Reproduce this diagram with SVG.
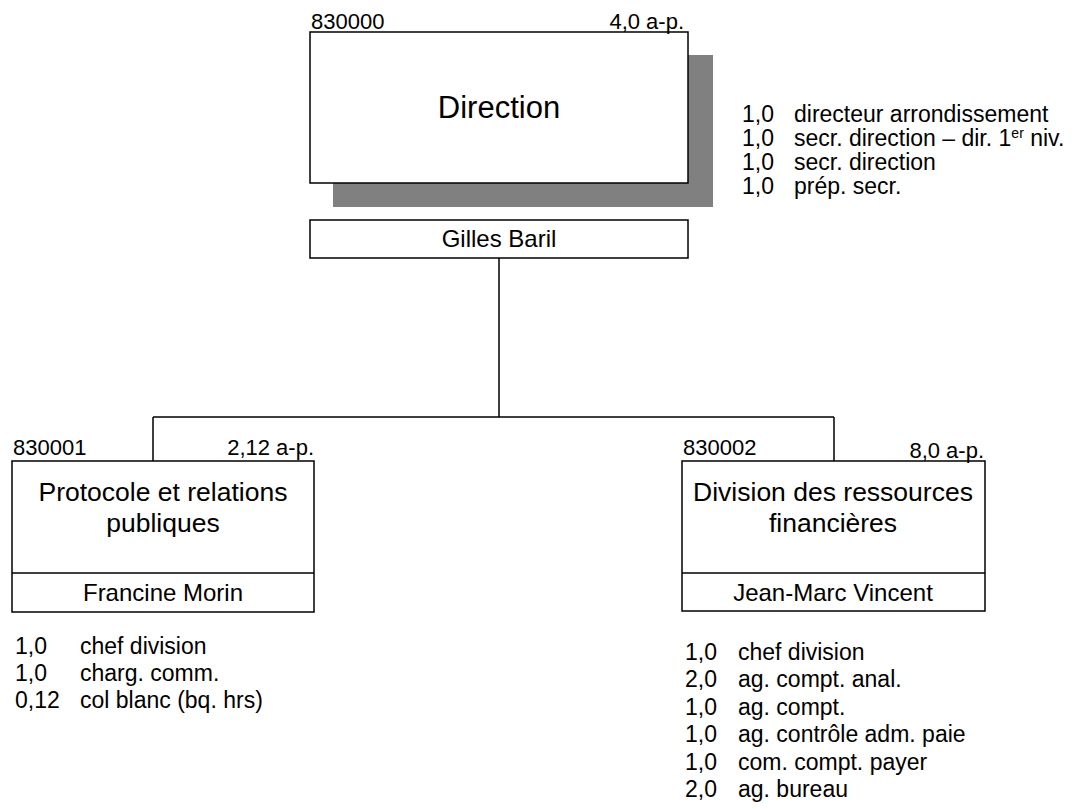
<svg xmlns="http://www.w3.org/2000/svg" width="1085" height="809" viewBox="0 0 1085 809">
<style>
text{font-family:"Liberation Sans",Arial,sans-serif;fill:#000}
.box{fill:#fff;stroke:#000;stroke-width:1.5}
.shadow{fill:#808080;stroke:none}
.line{stroke:#000;stroke-width:1.5;fill:none}
.lbl{font-size:22px}
.name{font-size:24px}
.title{font-size:26.5px}
.list{font-size:23px}
.mid{text-anchor:middle}
.end{text-anchor:end}
</style>
<rect width="1085" height="809" fill="#fff"/>
<g id="connectors">
<path class="line" d="M499,258 V417 M153,417 H834 M153,417 V461 M834,417 V461"/>
</g>
<g id="direction">
<rect class="shadow" x="333" y="55" width="380" height="152"/>
<rect class="box" x="310" y="32" width="378" height="151"/>
<text class="lbl" x="311" y="29">830000</text>
<text class="lbl end" x="684" y="29">4,0 a-p.</text>
<text class="mid" x="499" y="118" font-size="31">Direction</text>
<rect class="box" x="310" y="220" width="378" height="38"/>
<text class="name mid" x="499" y="247">Gilles Baril</text>
<g class="list">
<text x="742" y="122">1,0</text><text x="794" y="122">directeur arrondissement</text>
<text x="742" y="146">1,0</text><text x="794" y="146">secr. direction – dir. 1<tspan dy="-8" font-size="14">er</tspan><tspan dy="8"> niv.</tspan></text>
<text x="742" y="170">1,0</text><text x="794" y="170">secr. direction</text>
<text x="742" y="194">1,0</text><text x="794" y="194">prép. secr.</text>
</g>
</g>
<g id="protocole">
<rect class="box" x="12" y="461" width="302" height="151"/>
<line class="line" x1="12" y1="573" x2="314" y2="573"/>
<text class="lbl" x="13" y="455">830001</text>
<text class="lbl end" x="314" y="455">2,12 a-p.</text>
<text class="title mid" x="163" y="501">Protocole et relations</text>
<text class="title mid" x="163" y="532">publiques</text>
<text class="name mid" x="163" y="601">Francine Morin</text>
<g class="list">
<text x="15" y="654">1,0</text><text x="80" y="654">chef division</text>
<text x="15" y="681">1,0</text><text x="80" y="681">charg. comm.</text>
<text x="15" y="708">0,12</text><text x="80" y="708">col blanc (bq. hrs)</text>
</g>
</g>
<g id="finances">
<rect class="box" x="682" y="461" width="303" height="150"/>
<line class="line" x1="682" y1="573" x2="985" y2="573"/>
<text class="lbl" x="683" y="455">830002</text>
<text class="lbl end" x="984" y="458">8,0 a-p.</text>
<text class="title mid" x="833" y="501">Division des ressources</text>
<text class="title mid" x="833" y="532">financières</text>
<text class="name mid" x="833" y="601">Jean-Marc Vincent</text>
<g class="list">
<text x="685" y="660">1,0</text><text x="738" y="660">chef division</text>
<text x="685" y="687">2,0</text><text x="738" y="687">ag. compt. anal.</text>
<text x="685" y="715">1,0</text><text x="738" y="715">ag. compt.</text>
<text x="685" y="742">1,0</text><text x="738" y="742">ag. contrôle adm. paie</text>
<text x="685" y="770">1,0</text><text x="738" y="770">com. compt. payer</text>
<text x="685" y="797">2,0</text><text x="738" y="797">ag. bureau</text>
</g>
</g>
</svg>
